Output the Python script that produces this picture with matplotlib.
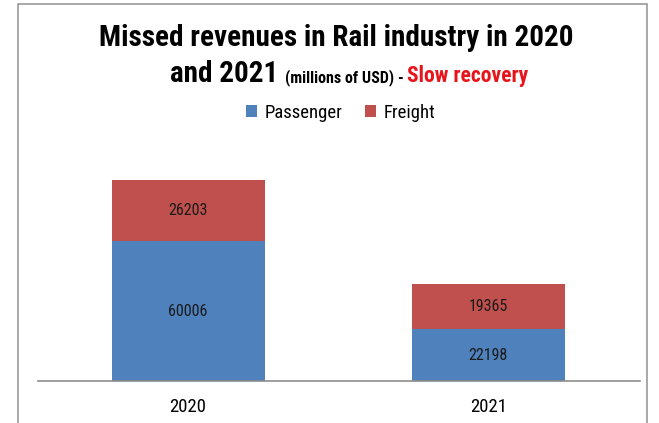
import matplotlib
matplotlib.use("Agg")
import matplotlib.pyplot as plt
from matplotlib.patches import Rectangle

# revenue figures, millions of USD
years = ["2020", "2021"]
passenger = [60006, 22198]
freight = [26203, 19365]

plt.rcParams["font.family"] = ["Roboto Condensed", "PT Sans Narrow", "Liberation Sans", "DejaVu Sans"]

blue = "#4F81BD"
red = "#C0504D"

fig = plt.figure(figsize=(6.59, 4.23), dpi=100)
ax = fig.add_axes([38 / 659, 1 - 381 / 423, 602 / 659, 233 / 423])

x = range(len(years))
b1 = ax.bar(x, passenger, width=0.51, color=blue, label="Passenger")
b2 = ax.bar(x, freight, width=0.51, bottom=passenger, color=red, label="Freight")
for bars, vals in ((b1, passenger), (b2, freight)):
    for r, v in zip(bars, vals):
        ax.text(r.get_x() + r.get_width() / 2, r.get_y() + r.get_height() / 2, str(v),
                ha="center", va="center", fontsize=11.5, color="#1a1a1a")

ax.set_xlim(-0.5, 1.505)
ax.set_ylim(0, 100000)
ax.set_xticks(list(x))
ax.set_xticklabels(years, fontsize=13.5)
ax.tick_params(axis="x", length=0, pad=12)
ax.set_yticks([])
for s in ("top", "right", "left"):
    ax.spines[s].set_visible(False)
ax.spines["bottom"].set_color("#8c8c8c")
ax.spines["bottom"].set_linewidth(1.2)

fig.legend(handles=[b1, b2], loc="center", bbox_to_anchor=(0.517, 1 - 113 / 423),
           ncol=2, frameon=False, fontsize=13.5, handlelength=0.6, handleheight=0.6,
           handletextpad=0.4, columnspacing=1.2)

# title, first line
fig.text(0.51, 1 - 38 / 423, "Missed revenues in Rail industry in 2020",
         ha="center", va="center", fontsize=21, fontweight="bold")

# title, second line built from three pieces
renderer = fig.canvas.get_renderer()
y2 = 1 - 82 / 423
parts = [("and 2021 ", 21, "black"), ("(millions of USD) - ", 11.5, "black"),
         ("Slow recovery", 15.5, "#E8141B")]
texts = [fig.text(0, y2, s, fontsize=fs, fontweight="bold", color=c, va="baseline")
         for s, fs, c in parts]
widths = [t.get_window_extent(renderer).width / fig.bbox.width for t in texts]
xpos = 0.53 - sum(widths) / 2
for t, w in zip(texts, widths):
    t.set_x(xpos)
    xpos += w

fig.patches.append(Rectangle((18 / 659, -0.05), 629 / 659, 1.05 - 4 / 423,
                             transform=fig.transFigure, fill=False,
                             edgecolor="#9a9a9a", linewidth=1.2))

fig.savefig("out.png", dpi=100)
